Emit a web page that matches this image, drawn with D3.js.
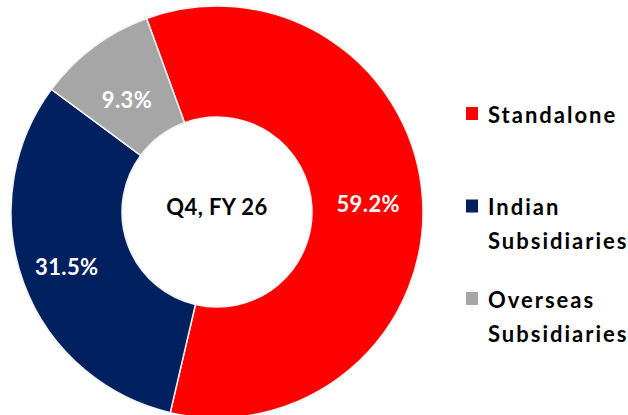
<!DOCTYPE html>
<html>
<head>
<meta charset="utf-8">
<script src="https://cdn.jsdelivr.net/npm/d3@7"></script>
<style>
  html, body { margin: 0; padding: 0; background: #fff; }
  svg { display: block; font-family: Lato, "Open Sans", sans-serif; }
</style>
</head>
<body>
<div id="chart"></div>
<script>
const categories = ["Standalone", "Indian Subsidiaries", "Overseas Subsidiaries"];
const values = [59.2, 31.5, 9.3];
const legendLines = [["Standalone"], ["Indian", "Subsidiaries"], ["Overseas", "Subsidiaries"]];
const colors = ["#FF0000", "#002060", "#A6A6A6"];
const centerLabel = "Q4, FY 26";

const W = 628, H = 415;
const cx = 217, cy = 212, rOuter = 206, rInner = 95;

const svg = d3.select("#chart").append("svg").attr("width", W).attr("height", H);

const color = d3.scaleOrdinal().domain(categories).range(colors);
const start = -20 * Math.PI / 180;
const pie = d3.pie().sort(null).value(d => d.value).startAngle(start).endAngle(start + 2 * Math.PI);
const data = categories.map((c, i) => ({ name: c, value: values[i] }));
const arcs = pie(data);
const arc = d3.arc().innerRadius(rInner).outerRadius(rOuter);

const g = svg.append("g").attr("transform", `translate(${cx},${cy})`);
g.selectAll("path.slice").data(arcs).join("path")
  .attr("class", "slice")
  .attr("d", arc)
  .attr("fill", d => color(d.data.name))
  .attr("stroke", "#f2f2f2")
  .attr("stroke-width", 1.5);

// small label nudges (Excel-like placement)
const nudge = [[1, 1], [-9, 3], [0, 9]];
g.selectAll("text.lbl").data(arcs).join("text")
  .attr("class", "lbl")
  .attr("transform", (d, i) => { const [x, y] = arc.centroid(d); return `translate(${x + nudge[i][0]},${y + nudge[i][1]})`; })
  .attr("text-anchor", "middle")
  .attr("dy", "0.36em")
  .attr("fill", "#fff")
  .attr("font-weight", 700)
  .attr("font-size", 22)
  .attr("letter-spacing", 0.4)
  .text(d => d.data.value.toFixed(1) + "%");

g.append("text")
  .attr("text-anchor", "middle")
  .attr("dy", "0.36em")
  .attr("y", -5)
  .attr("fill", "#000")
  .attr("font-weight", 700)
  .attr("font-size", 22)
  .attr("letter-spacing", 0.4)
  .text(centerLabel);

const legendY = d3.scalePoint().domain(categories).range([115, 300]);
const lg = svg.append("g");
const items = lg.selectAll("g.item").data(categories).join("g")
  .attr("class", "item")
  .attr("transform", c => `translate(466,${legendY(c)})`);
items.append("rect").attr("x", 0).attr("y", -8).attr("width", 12).attr("height", 13)
  .attr("fill", c => color(c));
items.append("text")
  .attr("x", 22).attr("y", 7.5)
  .attr("font-weight", 700).attr("font-size", 22).attr("fill", "#000")
  .attr("letter-spacing", 2)
  .selectAll("tspan").data((c, i) => legendLines[i]).join("tspan")
  .attr("x", 22).attr("dy", (d, j) => j === 0 ? 0 : 34)
  .text(d => d);
</script>
</body>
</html>
